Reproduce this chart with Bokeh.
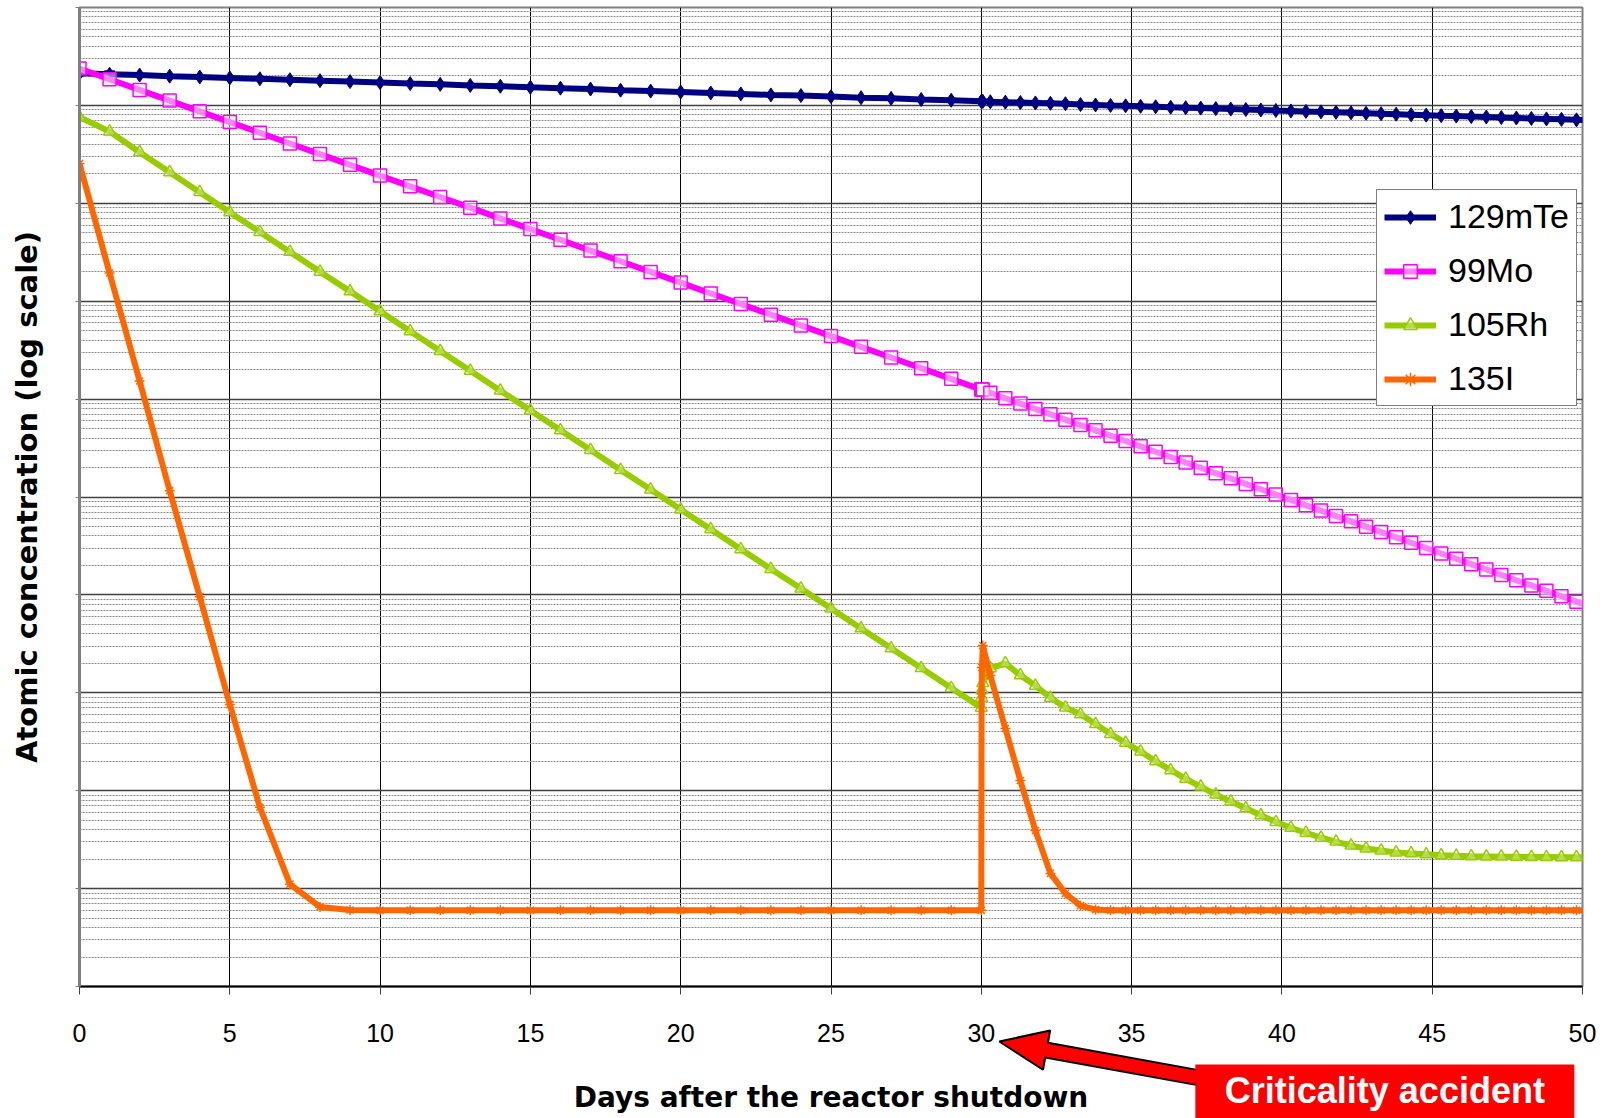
from bokeh.plotting import figure
from bokeh.layouts import column
from bokeh.models import (Range1d, FixedTicker, Legend, LegendItem,
                          CustomJSTickFormatter)
from bokeh.core.properties import value
from bokeh.embed import file_html
from bokeh.resources import INLINE

# ---------------- data ----------------
days = [0, 1, 2, 3, 4, 5, 6, 7, 8, 9, 10, 11, 12, 13, 14, 15, 16, 17, 18, 19, 20,
        21, 22, 23, 24, 25, 26, 27, 28, 29, 30,
        30.01, 30.02, 30.05,
        30.3, 30.8, 31.3, 31.8, 32.3, 32.8, 33.3, 33.8, 34.3, 34.8, 35.3, 35.8, 36.3,
        36.8, 37.3, 37.8, 38.3, 38.8, 39.3, 39.8, 40.3, 40.8, 41.3, 41.8, 42.3, 42.8,
        43.3, 43.8, 44.3, 44.8, 45.3, 45.8, 46.3, 46.8, 47.3, 47.8, 48.3, 48.8, 49.3,
        49.8, 50.3]

te_129m = [2.13e9, 2.08e9, 2.04e9, 1.99e9, 1.95e9, 1.91e9, 1.87e9, 1.83e9, 1.79e9, 1.75e9,
           1.71e9, 1.67e9, 1.64e9, 1.60e9, 1.57e9, 1.53e9, 1.50e9, 1.47e9, 1.43e9, 1.40e9,
           1.37e9, 1.34e9, 1.31e9, 1.28e9, 1.26e9, 1.23e9, 1.20e9, 1.18e9, 1.15e9, 1.13e9,
           1.10e9,
           1.10e9, 1.10e9, 1.10e9,
           1.09e9, 1.08e9, 1.07e9, 1.06e9, 1.05e9, 1.04e9, 1.02e9, 1.01e9, 1.00e9, 9.91e8,
           9.80e8, 9.69e8, 9.58e8, 9.48e8, 9.38e8, 9.27e8, 9.17e8, 9.07e8, 8.97e8, 8.87e8,
           8.78e8, 8.68e8, 8.59e8, 8.49e8, 8.40e8, 8.31e8, 8.22e8, 8.13e8, 8.04e8, 7.95e8,
           7.86e8, 7.78e8, 7.69e8, 7.61e8, 7.52e8, 7.44e8, 7.36e8, 7.28e8, 7.20e8, 7.12e8,
           7.04e8]

mo_99 = [2.38e9, 1.85e9, 1.44e9, 1.12e9, 8.69e8, 6.76e8, 5.25e8, 4.08e8, 3.18e8, 2.47e8,
         1.92e8, 1.49e8, 1.16e8, 9.02e7, 7.01e7, 5.45e7, 4.24e7, 3.29e7, 2.56e7, 1.99e7,
         1.55e7, 1.20e7, 9.36e6, 7.28e6, 5.66e6, 4.40e6, 3.42e6, 2.66e6, 2.07e6, 1.61e6,
         1.25e6,
         1.25e6, 1.25e6, 1.25e6,
         1.16e6, 1.02e6, 9.00e5, 7.94e5, 7.00e5, 6.17e5, 5.44e5, 4.80e5, 4.23e5, 3.73e5,
         3.29e5, 2.90e5, 2.56e5, 2.25e5, 1.99e5, 1.75e5, 1.55e5, 1.36e5, 1.20e5, 1.06e5,
         9.34e4, 8.23e4, 7.26e4, 6.40e4, 5.64e4, 4.98e4, 4.39e4, 3.87e4, 3.41e4, 3.01e4,
         2.65e4, 2.34e4, 2.06e4, 1.82e4, 1.60e4, 1.41e4, 1.25e4, 1.10e4, 9.68e3, 8.53e3,
         7.52e3]

rh_105 = [7.59e8, 5.41e8, 3.33e8, 2.08e8, 1.30e8, 8.11e7, 5.09e7, 3.19e7, 2.00e7, 1.26e7,
          7.88e6, 4.94e6, 3.10e6, 1.95e6, 1.22e6, 7.66e5, 4.81e5, 3.02e5, 1.89e5, 1.19e5,
          7.45e4, 4.68e4, 2.93e4, 1.84e4, 1.16e4, 7.25e3, 4.55e3, 2.85e3, 1.79e3, 1.12e3,
          7.05e2,
          8.90e2, 1.07e3, 1.26e3,
          1.78e3, 2.00e3, 1.51e3, 1.18e3, 8.91e2, 7.08e2, 6.03e2, 4.79e2, 3.80e2, 3.09e2,
          2.51e2, 2.00e2, 1.62e2, 1.32e2, 1.10e2, 91.2, 77.6, 66.1, 56.2, 47.9,
          41.7, 37.2, 33.1, 30.2, 27.5, 25.7, 24.5, 23.4, 22.9, 22.4,
          21.9, 21.6, 21.4, 21.3, 21.2, 21.1, 21.0, 21.0, 20.9, 20.9,
          20.9]

i_135 = [2.55e8, 1.94e7, 1.53e6, 1.16e5, 9.6e3, 7.6e2, 67.8, 11.1, 6.5, 6.05,
         6.0, 6.0, 6.0, 6.0, 6.0, 6.0, 6.0, 6.0, 6.0, 6.0,
         6.0, 6.0, 6.0, 6.0, 6.0, 6.0, 6.0, 6.0, 6.0, 6.0,
         6.0,
         9.8e2, 1.81e3, 3.04e3,
         1.50e3, 4.32e2, 1.27e2, 39.2, 14.3, 8.9, 6.7, 6.1, 6.0, 6.0,
         6.0, 6.0, 6.0, 6.0, 6.0, 6.0, 6.0, 6.0, 6.0, 6.0,
         6.0, 6.0, 6.0, 6.0, 6.0, 6.0, 6.0, 6.0, 6.0, 6.0,
         6.0, 6.0, 6.0, 6.0, 6.0, 6.0, 6.0, 6.0, 6.0, 6.0,
         6.0]

series_names = ["129mTe", "99Mo", "105Rh", "135I"]
accident_day = 30
accident_text = "Criticality accident"
x_ticks = [0, 5, 10, 15, 20, 25, 30, 35, 40, 45, 50]
y_decades = [1e0, 1e1, 1e2, 1e3, 1e4, 1e5, 1e6, 1e7, 1e8, 1e9, 1e10]
y_minor = [m * d for d in y_decades[:-1] for m in (2, 3, 4, 5, 6, 7, 8, 9)]

# ---------------- main figure ----------------
W, H = 1611, 1118
BL, BR, BT, BB = 79, 29, 7, 132
X0, X1, Y0, Y1 = 0, 50, 1, 1e10
p = figure(width=W, height=H, output_backend="svg", toolbar_location=None,
           x_range=Range1d(X0, X1), y_range=Range1d(Y0, Y1), y_axis_type="log",
           min_border_left=BL, min_border_right=BR, min_border_top=BT,
           min_border_bottom=BB, background_fill_color="white",
           border_fill_color="white")

p.outline_line_color = "#808080"
p.outline_line_width = 2

# x axis
p.xaxis.ticker = FixedTicker(ticks=x_ticks)
p.xaxis.major_label_text_font = "Liberation Sans"
p.xaxis.major_label_text_font_size = "25px"
p.xaxis.major_label_text_color = "black"
p.xaxis.major_label_standoff = 29
p.xaxis.major_tick_out = 8
p.xaxis.major_tick_in = 0
p.xaxis.major_tick_line_color = "#404040"
p.xaxis.minor_tick_line_color = None
p.xaxis.axis_line_color = "black"
p.xaxis.axis_line_width = 2
p.xaxis.axis_label = "Days after the reactor shutdown"
p.xaxis.axis_label_text_font = "DejaVu Sans"
p.xaxis.axis_label_text_font_style = "bold"
p.xaxis.axis_label_text_font_size = "28px"
p.xaxis.axis_label_text_color = "black"
p.xaxis.axis_label_standoff = 36

# y axis
p.yaxis.ticker = FixedTicker(ticks=y_decades, minor_ticks=y_minor)
p.yaxis.formatter = CustomJSTickFormatter(code="return ''")
p.yaxis.major_label_standoff = 0
p.yaxis.major_tick_out = 4
p.yaxis.major_tick_in = 0
p.yaxis.major_tick_line_color = "#808080"
p.yaxis.minor_tick_line_color = None
p.yaxis.axis_line_color = "#808080"
p.yaxis.axis_line_width = 3
p.yaxis.axis_label = "Atomic concentration (log scale)"
p.yaxis.axis_label_text_font = "DejaVu Sans"
p.yaxis.axis_label_text_font_style = "bold"
p.yaxis.axis_label_text_font_size = "29px"
p.yaxis.axis_label_text_color = "black"
p.yaxis.axis_label_standoff = 32

# grids
p.xgrid.grid_line_color = "black"
p.xgrid.grid_line_width = 1
p.ygrid.grid_line_color = "#404040"
p.ygrid.grid_line_width = 1.5
p.ygrid.minor_grid_line_color = "#8c8c8c"
p.ygrid.minor_grid_line_width = 1
p.ygrid.minor_grid_line_dash = "2 1"

# ---------------- series ----------------
navy, magenta, green, orange = "#000080", "#FF00FF", "#99CC00", "#FF6600"
LW = 6

te_line = p.line(days, te_129m, line_color=navy, line_width=LW)
te_pts = p.scatter(days, te_129m, marker="diamond", size=14, fill_color=navy,
                   line_color=navy)
p.scatter(days[:1], te_129m[:1], marker="triangle", size=10, fill_color=navy,
          line_color=navy)
p.scatter(days[1:2], te_129m[1:2], marker="inverted_triangle", size=10,
          fill_alpha=0, line_color=navy, line_width=2)

mo_line = p.line(days, mo_99, line_color=magenta, line_width=LW)
mo_pts = p.scatter(days, mo_99, marker="square", size=13, fill_color="white",
                   fill_alpha=0.5, line_color=magenta, line_width=1.5)

rh_line = p.line(days, rh_105, line_color=green, line_width=LW)
rh_pts = p.scatter(days, rh_105, marker="triangle", size=12, fill_color="white",
                   fill_alpha=0.3, line_color=green, line_width=1.5)

i_line = p.line(days, i_135, line_color=orange, line_width=LW)
i_pts = p.scatter(days, i_135, marker="asterisk", size=10, line_color=orange,
                  line_width=1.5)

legend = Legend(items=[
    LegendItem(label=series_names[0], renderers=[te_line, te_pts]),
    LegendItem(label=series_names[1], renderers=[mo_line, mo_pts]),
    LegendItem(label=series_names[2], renderers=[rh_line, rh_pts]),
    LegendItem(label=series_names[3], renderers=[i_line, i_pts]),
], location=(1297, 580))
legend.border_line_color = "black"
legend.border_line_width = 1
legend.background_fill_color = "white"
legend.background_fill_alpha = 1
legend.label_text_font = "Liberation Sans"
legend.label_text_font_size = "34px"
legend.label_text_color = "black"
legend.glyph_width = 52
legend.glyph_height = 34
legend.label_height = 34
legend.spacing = 15
legend.padding = 7
legend.margin = 0
legend.label_standoff = 12
p.add_layout(legend, "center")

# ---------------- overlay strip for the call-out below the axis ----------------
# transparent figure laid over the bottom border of the main chart; its x range
# is the same day scale, its y coordinate is pixels down from the chart frame.
q = figure(width=W, height=BB, output_backend="svg", toolbar_location=None,
           x_range=Range1d(X0, X1), y_range=Range1d(BB, 0),
           x_axis_location=None, y_axis_location=None,
           min_border_left=BL, min_border_right=BR, min_border_top=0,
           min_border_bottom=0, background_fill_alpha=0, border_fill_alpha=0,
           outline_line_color=None)
q.grid.visible = False
q.margin = (-BB, 0, 0, 0)

px_per_day = (W - BL - BR) / (X1 - X0)

tip_x, tip_y = accident_day + 0.6, 55.0
tail_dx, tail_dy = 198.0, 36.0            # tail relative to tip, pixels
L = (tail_dx ** 2 + tail_dy ** 2) ** 0.5
ux, uy = tail_dx / L, tail_dy / L
nx, ny = uy, -ux
head_len, head_half, shaft_half = 48.0, 20.0, 7.5
hx, hy = ux * head_len, uy * head_len
outline_px = [
    (tail_dx + nx * shaft_half, tail_dy + ny * shaft_half),
    (hx + nx * shaft_half, hy + ny * shaft_half),
    (hx + nx * head_half, hy + ny * head_half),
    (0.0, 0.0),
    (hx - nx * head_half, hy - ny * head_half),
    (hx - nx * shaft_half, hy - ny * shaft_half),
    (tail_dx - nx * shaft_half, tail_dy - ny * shaft_half),
]
q.patch([tip_x + dx / px_per_day for dx, dy in outline_px],
        [tip_y + dy for dx, dy in outline_px],
        fill_color="#FF0000", line_color="black", line_width=2)

box_left = tip_x + 196.0 / px_per_day
box_right = tip_x + 575.0 / px_per_day
q.quad(left=[box_left], right=[box_right], top=[78.0], bottom=[BB + 10.0],
       fill_color="#FF0000", line_color=None)
q.text(x=[(box_left + box_right) / 2], y=[104.0], text=[accident_text],
       text_font=value("Liberation Sans"), text_font_style="bold",
       text_font_size="36px", text_color="white", text_align="center",
       text_baseline="middle")

open("out.html", "w").write(file_html(column(p, q), INLINE))
